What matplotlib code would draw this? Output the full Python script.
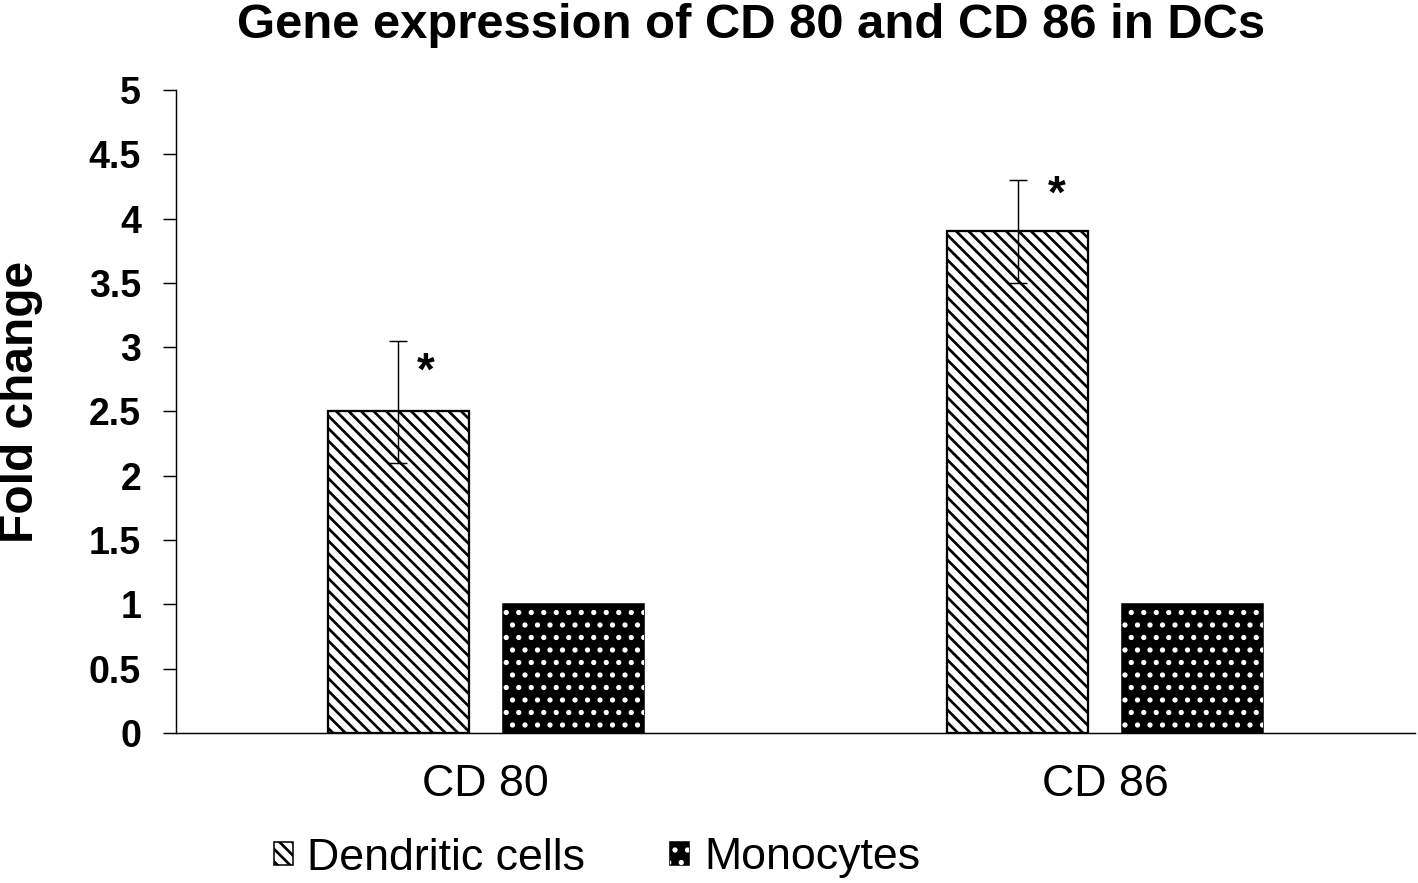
import numpy as np
import matplotlib
matplotlib.use("Agg")
import matplotlib.pyplot as plt
from matplotlib.patches import Patch
from matplotlib.legend_handler import HandlerTuple

# data
genes = ["CD 80", "CD 86"]
series = ["Dendritic cells", "Monocytes"]
dc_vals = [2.5, 3.9]
dc_err_lo = [0.4, 0.4]
dc_err_hi = [0.55, 0.4]
mono_vals = [1.0, 1.0]
yticks = [0, 0.5, 1, 1.5, 2, 2.5, 3, 3.5, 4, 4.5, 5]

plt.rcParams['font.family'] = ['Liberation Sans', 'DejaVu Sans']
plt.rcParams['hatch.linewidth'] = 2.6

DPI = 75
fig = plt.figure(figsize=(1418 / DPI, 883 / DPI), dpi=DPI)
ax = fig.add_axes([176 / 1418, 1 - 733 / 883, (1415 - 176) / 1418, (733 - 90) / 883])

x = np.arange(len(genes))
w = 0.2275
off = 0.1415

ax.bar(x - off, dc_vals, w, color='white', edgecolor='black', linewidth=2.2,
       hatch='\\\\', zorder=2)
ax.errorbar(x - off, dc_vals, yerr=[dc_err_lo, dc_err_hi], fmt='none',
            ecolor='black', elinewidth=1.4, capsize=8.5, capthick=1.4, zorder=3)
# monocytes: black bar with white dots
ax.bar(x + off, mono_vals, w, color='black', edgecolor='black', linewidth=1.5, zorder=2)
ax.bar(x + off, mono_vals, w, color='none', edgecolor='white', linewidth=0,
       hatch='.', zorder=2)

# significance stars
ax.text(x[0] - off + 0.045, 2.80, '*', fontsize=44, fontweight='bold',
        ha='center', va='center')
ax.text(x[1] - off + 0.064, 4.18, '*', fontsize=44, fontweight='bold',
        ha='center', va='center')

ax.set_xlim(-0.5, 1.5)
ax.set_ylim(0, 5)
ax.set_yticks(yticks)
ax.set_yticklabels([f"{t:g}" for t in yticks], fontsize=36, fontweight='bold')
ax.set_xticks(x)
ax.set_xticklabels(genes, fontsize=43)
ax.tick_params(axis='x', length=0, pad=30)
ax.tick_params(axis='y', length=12.5, width=1.4, pad=21)
for s in ['top', 'right']:
    ax.spines[s].set_visible(False)
for s in ['left', 'bottom']:
    ax.spines[s].set_linewidth(1.4)

ax.set_ylabel('Fold change', fontsize=46, fontweight='bold')
ax.yaxis.set_label_coords(-0.107, 0.515)
fig.text(751 / 1418, 1 - 25 / 883, 'Gene expression of CD 80 and CD 86 in DCs',
         fontsize=47, fontweight='bold', ha='center', va='center')

handles = [Patch(facecolor='white', edgecolor='black', hatch='\\\\', linewidth=1.5),
           (Patch(facecolor='black', edgecolor='black', linewidth=1.5),
            Patch(facecolor='none', edgecolor='white', linewidth=0, hatch='.'))]
fig.legend(handles, series, loc='center', bbox_to_anchor=(597 / 1418, 1 - 858 / 883),
           ncol=2, frameon=False, fontsize=43, handlelength=0.42, handleheight=0.42,
           handletextpad=0.33, columnspacing=1.9,
           handler_map={tuple: HandlerTuple(ndivide=1, pad=0)})

fig.savefig('out.png', dpi=DPI)
